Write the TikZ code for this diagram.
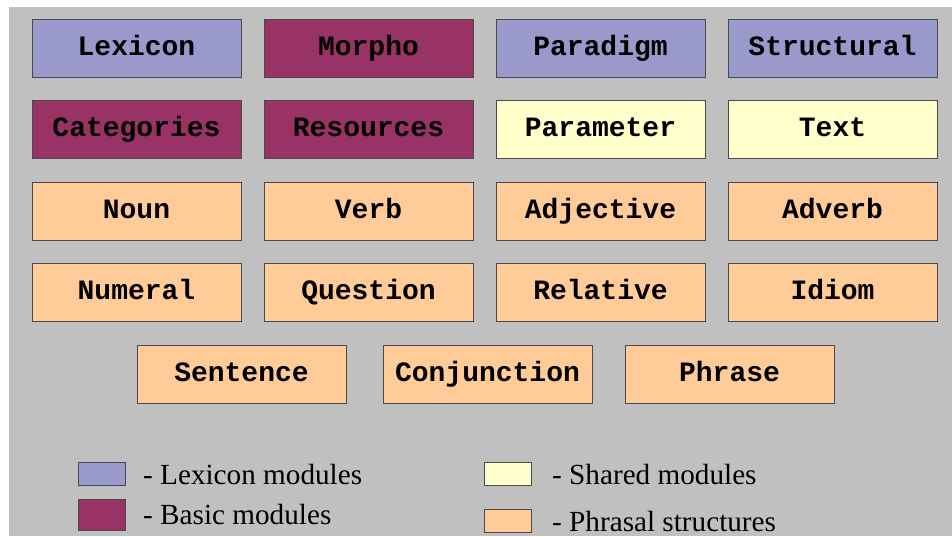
\documentclass[tikz,border=0pt]{standalone}
\usepackage{fontspec}
\setmainfont{Liberation Serif}
\setmonofont{Liberation Mono}
\usetikzlibrary{positioning}
\definecolor{lexFill}{HTML}{9999CC}
\definecolor{basicFill}{HTML}{993366}
\definecolor{sharedFill}{HTML}{FFFFCC}
\definecolor{phraseFill}{HTML}{FFCC99}
\definecolor{bgGray}{HTML}{C0C0C0}
\definecolor{edgeGray}{HTML}{4A4A4A}

\begin{document}
\begin{tikzpicture}[x=1pt, y=-1pt,
      module/.style={draw=edgeGray, line width=0.9pt, minimum width=209pt, minimum height=58pt,
        inner sep=0pt, outer sep=0pt, text height=20pt, text depth=6pt,
        font=\fontsize{28}{30}\selectfont\ttfamily\bfseries},
      lex/.style={module, fill=lexFill},
      basic/.style={module, fill=basicFill},
      shared/.style={module, fill=sharedFill},
      phrasal/.style={module, fill=phraseFill},
      key/.style={draw=edgeGray, line width=0.9pt, minimum width=47pt, minimum height=23pt,
        inner sep=0pt, outer sep=0pt},
      keytext/.style={anchor=base west, inner sep=0pt, font=\fontsize{29.2}{31}\selectfont}]
    \fill[white] (0,0) rectangle (952,536);
    \fill[bgGray] (9,7) rectangle (952,536);
    \useasboundingbox (0,0) rectangle (952,536);
    % row 1
    \node[lex, anchor=north west] (lexicon) at (32,19) {Lexicon};
    \node[basic, right=23pt of lexicon] (morpho) {Morpho};
    \node[lex, right=23pt of morpho] (paradigm) {Paradigm};
    \node[lex, right=23pt of paradigm] (structural) {Structural};
    % row 2
    \node[basic, below=23pt of lexicon] (categories) {Categories};
    \node[basic, right=23pt of categories] (resources) {Resources};
    \node[shared, right=23pt of resources] (parameter) {Parameter};
    \node[shared, right=23pt of parameter] (text) {Text};
    % row 3
    \node[phrasal, below=24pt of categories] (noun) {Noun};
    \node[phrasal, right=23pt of noun] (verb) {Verb};
    \node[phrasal, right=23pt of verb] (adjective) {Adjective};
    \node[phrasal, right=23pt of adjective] (adverb) {Adverb};
    % row 4
    \node[phrasal, below=23pt of noun] (numeral) {Numeral};
    \node[phrasal, right=23pt of numeral] (question) {Question};
    \node[phrasal, right=23pt of question] (relative) {Relative};
    \node[phrasal, right=23pt of relative] (idiom) {Idiom};
    % row 5
    \node[phrasal, anchor=north west] (sentence) at (137,345) {Sentence};
    \node[phrasal, right=37pt of sentence] (conjunction) {Conjunction};
    \node[phrasal, right=33pt of conjunction] (phrase) {Phrase};
    % legend
    \node[key, fill=lexFill, anchor=north west] (keyLex) at (78,462) {};
    \node[key, fill=basicFill, anchor=north west, minimum height=31pt] (keyBasic) at (78,499) {};
    \node[key, fill=sharedFill, anchor=north west] (keyShared) at (484,462) {};
    \node[key, fill=phraseFill, anchor=north west] (keyPhrasal) at (484,509) {};
    \node[keytext] (txtLex) at (143,484) {- Lexicon modules};
    \node[keytext] (txtBasic) at (143,524) {- Basic modules};
    \node[keytext] (txtShared) at (552,484) {- Shared modules};
    \node[keytext] (txtPhrasal) at (552,531) {- Phrasal structures};
  \end{tikzpicture}
\end{document}
